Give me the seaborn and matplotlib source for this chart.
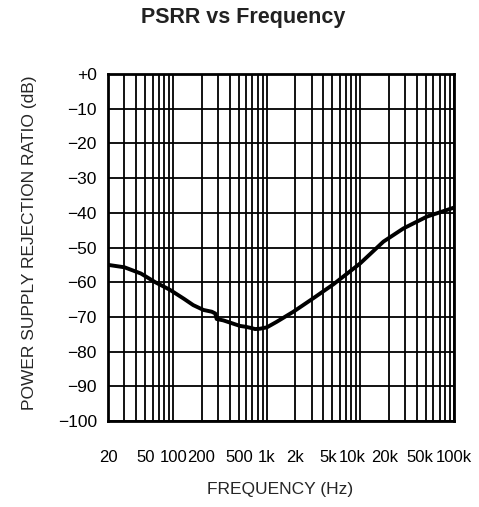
import numpy as np
import pandas as pd
import seaborn as sns
import matplotlib.pyplot as plt
from matplotlib.ticker import LogLocator, NullFormatter, FixedLocator
from matplotlib.transforms import ScaledTranslation

# PSRR curve
freq = [20, 30, 45, 64, 92, 130, 163, 210, 257, 280, 290, 342, 420, 516, 580,
        680, 747, 845, 1000, 1274, 1919, 3140, 5140, 9910, 17600, 28800, 51300, 100000]
psrr = [-55, -55.7, -57.5, -60, -62.2, -64.8, -66.6, -68, -68.5, -69, -70.6, -71,
        -71.8, -72.6, -72.8, -73.2, -73.5, -73.4, -73.0, -71.4, -68.5, -64.6, -60.6,
        -54.6, -48.3, -44.5, -41.1, -38.5]

x_ticks = [20, 50, 100, 200, 500, 1000, 2000, 5000, 10000, 20000, 50000, 100000]
x_labels = ["20", "50", "100", "200", "500", "1k", "2k", "5k", "10k", "20k", "50k", "100k"]
y_ticks = [0, -10, -20, -30, -40, -50, -60, -70, -80, -90, -100]
y_labels = ["+0"] + ["\u2212" + str(-v) for v in y_ticks[1:]]

df = pd.DataFrame({"freq": freq, "psrr": psrr})

sns.set_style("white")
plt.rcParams["font.family"] = ["Liberation Sans", "DejaVu Sans"]

fig = plt.figure(figsize=(4.79, 5.07), dpi=100)
ax = fig.add_axes([0.2255, 0.1696, 0.7223, 0.6844])

sns.lineplot(data=df, x="freq", y="psrr", color="black", lw=2.8, ax=ax)

ax.set_xscale("log")
ax.set_xlim(20, 100000)
ax.set_ylim(-100, 0)

ax.xaxis.set_major_locator(FixedLocator(x_ticks))
ax.set_xticklabels(x_labels)
ax.xaxis.set_minor_locator(LogLocator(base=10, subs=np.arange(1, 10), numticks=20))
ax.xaxis.set_minor_formatter(NullFormatter())
ax.set_yticks(y_ticks)
ax.set_yticklabels(y_labels)

ax.grid(True, which="both", axis="x", color="black", lw=1.3)
ax.grid(True, which="major", axis="y", color="black", lw=1.3)
ax.tick_params(which="both", length=0, colors="black")
ax.tick_params(axis="x", labelsize=12, pad=21)
ax.tick_params(axis="y", labelsize=12.5, pad=8)

# labels at the right end are squeezed a little to the left in the original
shift_px = {"5k": -4, "10k": -8, "20k": -4, "50k": -6}
for lab in ax.get_xticklabels():
    if lab.get_text() in shift_px:
        dx = shift_px[lab.get_text()] * 0.72 / 72
        lab.set_transform(lab.get_transform() + ScaledTranslation(dx, 0, fig.dpi_scale_trans))

for s in ax.spines.values():
    s.set_color("black")
    s.set_linewidth(2)

ax.set_xlabel("FREQUENCY (Hz)", fontsize=12.5)
ax.set_ylabel("POWER SUPPLY REJECTION RATIO (dB)", fontsize=12.5)
ax.xaxis.set_label_coords(0.497, -0.176)
ax.yaxis.set_label_coords(-0.205, 0.513)

fig.suptitle("PSRR vs Frequency", x=0.507, y=0.987, fontsize=15.5,
             fontweight="bold", color="#222222")

fig.savefig("out.png", dpi=100)
